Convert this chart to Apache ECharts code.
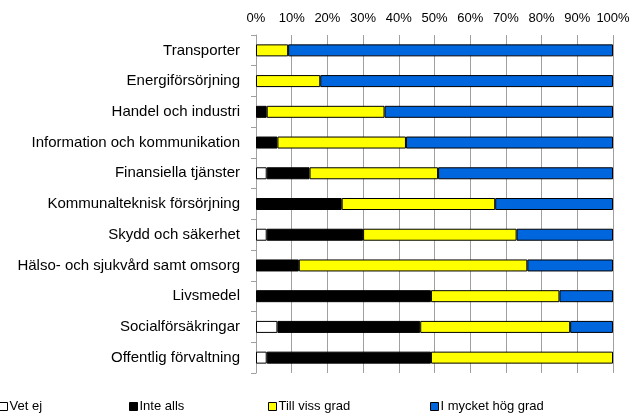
<!DOCTYPE html>
<html>
<head>
<meta charset="UTF-8">
<script src="https://cdn.jsdelivr.net/npm/echarts@6/dist/echarts.min.js"></script>
<style>
    html, body { margin: 0; padding: 0; background: #fff; }
    #main { width: 630px; height: 414px; }
</style>
</head>
<body>
<div id="main"></div>
<script type="text/javascript">
    // kategorier, uppifrån och ned
    var categories = ['Transporter', 'Energiförsörjning', 'Handel och industri', 'Information och kommunikation',
        'Finansiella tjänster', 'Kommunalteknisk försörjning', 'Skydd och säkerhet',
        'Hälso- och sjukvård samt omsorg', 'Livsmedel', 'Socialförsäkringar', 'Offentlig förvaltning'];
    var vetEj       = [0, 0, 0, 0, 3, 0, 3, 0, 0, 6, 3];
    var inteAlls    = [0, 0, 3, 6, 12, 24, 27, 12, 49, 40, 46];
    var tillViss    = [9, 18, 33, 36, 36, 43, 43, 64, 36, 42, 51];
    var mycketHog   = [91, 82, 64, 58, 49, 33, 27, 24, 15, 12, 0];
    var seriesNames = ['Vet ej', 'Inte alls', 'Till viss grad', 'I mycket hög grad'];
    var colors = ['#ffffff', '#000000', '#ffff00', '#0066dd'];
    var legendLeft = [-1, 129, 268, 430];

    var font = 'Liberation Sans';
    var chart = echarts.init(document.getElementById('main'));

    var dataSets = [vetEj, inteAlls, tillViss, mycketHog];
    var series = [];
    var legends = [];
    for (var i = 0; i < seriesNames.length; i++) {
        // nollvärden ritas inte (annars syns en tunn kantlinje)
        var vals = dataSets[i].map(function (v) { return v === 0 ? '-' : v; });
        series.push({
            name: seriesNames[i],
            type: 'bar',
            stack: 'total',
            barWidth: 12,
            data: vals,
            itemStyle: { color: colors[i], borderColor: '#000', borderWidth: 1 },
            emphasis: { disabled: true }
        });
        legends.push({
            data: [{ name: seriesNames[i], icon: 'rect' }],
            left: legendLeft[i],
            top: 400,
            itemWidth: 8,
            itemHeight: 8,
            itemGap: 0,
            padding: 0,
            textStyle: { fontFamily: font, fontSize: 13, color: '#000', padding: [0, 0, 0, -3] },
            itemStyle: { borderColor: '#000', borderWidth: 1 }
        });
    }

    var option = {
        animation: false,
        legend: legends,
        grid: { left: 256, right: 17, top: 35, height: 338, outerBoundsMode: 'none' },
        xAxis: {
            type: 'value',
            position: 'top',
            min: 0,
            max: 100,
            interval: 10,
            axisLine: { show: false },
            axisTick: { show: false },
            axisLabel: { formatter: '{value}%', fontFamily: font, fontSize: 13, color: '#000', margin: 10 },
            splitLine: { show: true, lineStyle: { color: '#a0a0a0', width: 1 } }
        },
        yAxis: {
            type: 'category',
            inverse: true,
            data: categories,
            axisLine: { show: true, lineStyle: { color: '#a0a0a0' } },
            axisTick: { show: true, length: 5, lineStyle: { color: '#a0a0a0' } },
            axisLabel: { fontFamily: font, fontSize: 15, color: '#000', margin: 16 }
        },
        series: series
    };
    chart.setOption(option);
</script>
</body>
</html>
